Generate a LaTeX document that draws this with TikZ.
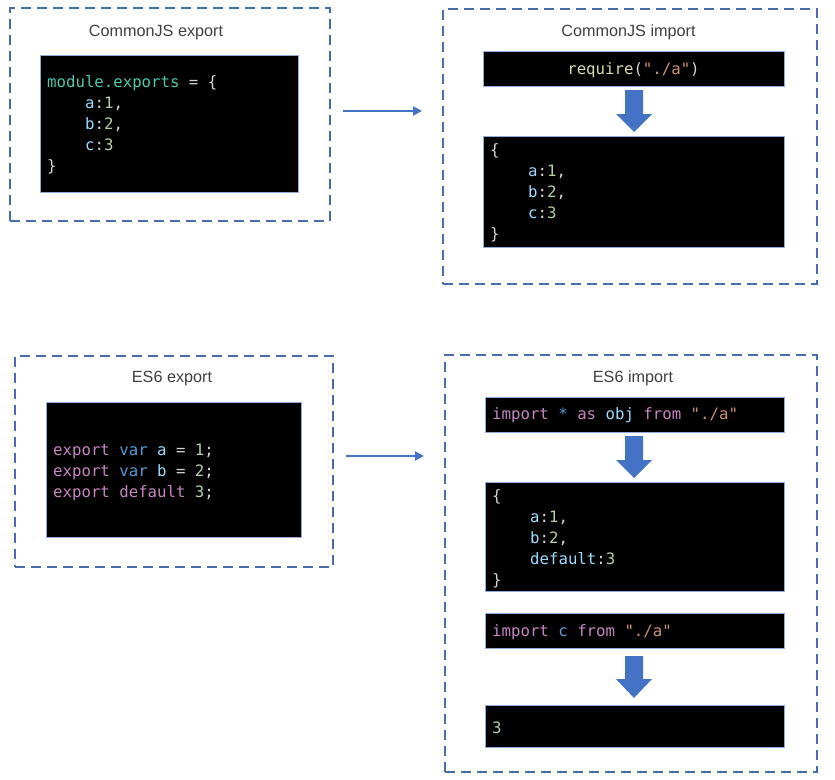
\documentclass[tikz,border=0pt]{standalone}
\usepackage{fontspec}
\setmainfont{Liberation Sans}
\newfontfamily\codefont{DejaVu Sans Mono}[Ligatures=TeXOff]
\usetikzlibrary{arrows.meta}
\definecolor{kw}{HTML}{C586C0}
\definecolor{vr}{HTML}{569CD6}
\definecolor{idc}{HTML}{9CDCFE}
\definecolor{num}{HTML}{B5CEA8}
\definecolor{pun}{HTML}{D4D4D4}
\definecolor{strc}{HTML}{CE9178}
\definecolor{fnc}{HTML}{DCDCAA}
\definecolor{modc}{HTML}{4EC9B0}
\definecolor{framecol}{HTML}{4A6CAA}
\definecolor{arrowcol}{HTML}{4472C4}
\definecolor{boxcol}{HTML}{8FAADC}
\definecolor{titlecol}{HTML}{404040}
\begin{document}
\begin{tikzpicture}[x=1pt,y=-1pt,
  frame/.style={draw=framecol, line width=1.8pt, dash pattern=on 10pt off 6pt, inner sep=0pt},
  codebox/.style={draw=boxcol, line width=0.6pt, fill=black, inner sep=0pt},
  code/.style={font=\codefont\fontsize{15.7}{21}\selectfont, anchor=base west, inner sep=0pt, text=pun},
  title/.style={font=\fontsize{16.2}{19}\selectfont, text=titlecol, anchor=base, inner sep=0pt},
  arr/.style={draw=arrowcol, line width=2pt, -{Triangle[length=9pt,width=9pt]}},
  blockarrow/.style={fill=arrowcol}]
\useasboundingbox (0,0) rectangle (835,779);
\fill[white] (0,0) rectangle (835,779);

% frames
\node[frame, minimum width=320pt, minimum height=213pt] (b1) at (170,114.5) {};
\node[frame, minimum width=374pt, minimum height=275pt] (b2) at (630,146.5) {};
\node[frame, minimum width=318pt, minimum height=211pt] (b3) at (174,461.5) {};
\node[frame, minimum width=372pt, minimum height=417pt] (b4) at (631,563.5) {};

% titles
\node[title] (t1) at (156,36) {CommonJS export};
\node[title] (t2) at (628.5,36) {CommonJS import};
\node[title] (t3) at (172,382) {ES6 export};
\node[title] (t4) at (633,382) {ES6 import};

% code boxes
\node[codebox, minimum width=258pt, minimum height=137pt] (c1) at (169,123.5) {};
\node[codebox, minimum width=301pt, minimum height=35pt] (c2) at (633.5,68.5) {};
\node[codebox, minimum width=301pt, minimum height=111pt] (c3) at (633.5,191.5) {};
\node[codebox, minimum width=255pt, minimum height=135pt] (c4) at (173.5,469.5) {};
\node[codebox, minimum width=299pt, minimum height=35pt] (c5) at (634.5,414.5) {};
\node[codebox, minimum width=299pt, minimum height=109pt] (c6) at (634.5,536.5) {};
\node[codebox, minimum width=299pt, minimum height=35pt] (c7) at (634.5,630.5) {};
\node[codebox, minimum width=299pt, minimum height=42pt] (c8) at (634.5,726) {};

% CommonJS export code
\node[code] (l11) at (47,87) {\textcolor{modc}{module.exports} = \{};
\node[code] (l12) at (85,108) {\textcolor{idc}{a}:\textcolor{num}{1},};
\node[code] (l13) at (85,129) {\textcolor{idc}{b}:\textcolor{num}{2},};
\node[code] (l14) at (85,150) {\textcolor{idc}{c}:\textcolor{num}{3}};
\node[code] (l15) at (47,171) {\}};

% CommonJS import
\node[code, anchor=base] (l21) at (633.5,74) {\textcolor{fnc}{require}(\textcolor{strc}{"./a"})};
\node[code] (l31) at (490,155) {\{};
\node[code] (l32) at (528,176) {\textcolor{idc}{a}:\textcolor{num}{1},};
\node[code] (l33) at (528,197) {\textcolor{idc}{b}:\textcolor{num}{2},};
\node[code] (l34) at (528,218) {\textcolor{idc}{c}:\textcolor{num}{3}};
\node[code] (l35) at (490,239) {\}};

% ES6 export
\node[code] (l41) at (53,455) {\textcolor{kw}{export} \textcolor{vr}{var} \textcolor{idc}{a} = \textcolor{num}{1};};
\node[code] (l42) at (53,476) {\textcolor{kw}{export} \textcolor{vr}{var} \textcolor{idc}{b} = \textcolor{num}{2};};
\node[code] (l43) at (53,497) {\textcolor{kw}{export} \textcolor{kw}{default} \textcolor{num}{3};};

% ES6 import
\node[code] (l51) at (492,419) {\textcolor{kw}{import} \textcolor{vr}{*} \textcolor{kw}{as} \textcolor{idc}{obj} \textcolor{kw}{from} \textcolor{strc}{"./a"}};
\node[code] (l61) at (492,501) {\{};
\node[code] (l62) at (530,522) {\textcolor{idc}{a}:\textcolor{num}{1},};
\node[code] (l63) at (530,543) {\textcolor{idc}{b}:\textcolor{num}{2},};
\node[code] (l64) at (530,564) {\textcolor{idc}{default}:\textcolor{num}{3}};
\node[code] (l65) at (492,585) {\}};
\node[code] (l71) at (492,636) {\textcolor{kw}{import} \textcolor{vr}{c} \textcolor{kw}{from} \textcolor{strc}{"./a"}};
\node[code] (l81) at (492,733) {\textcolor{num}{3}};

% block arrows
\fill[blockarrow] (625,90) -- (643,90) -- (643,114) -- (652,114) -- (634,132) -- (616,114) -- (625,114) -- cycle;
\fill[blockarrow] (625,436) -- (643,436) -- (643,460) -- (652,460) -- (634,478) -- (616,460) -- (625,460) -- cycle;
\fill[blockarrow] (625,656) -- (643,656) -- (643,679) -- (652,679) -- (634,698) -- (616,679) -- (625,679) -- cycle;

% connectors between frames
\coordinate (a1s) at (343,111);
\coordinate (a1e) at (422,111);
\coordinate (a2s) at (346,456);
\coordinate (a2e) at (424,456);
\draw[arr] (a1s) -- (a1e);
\draw[arr] (a2s) -- (a2e);
\end{tikzpicture}
\end{document}
